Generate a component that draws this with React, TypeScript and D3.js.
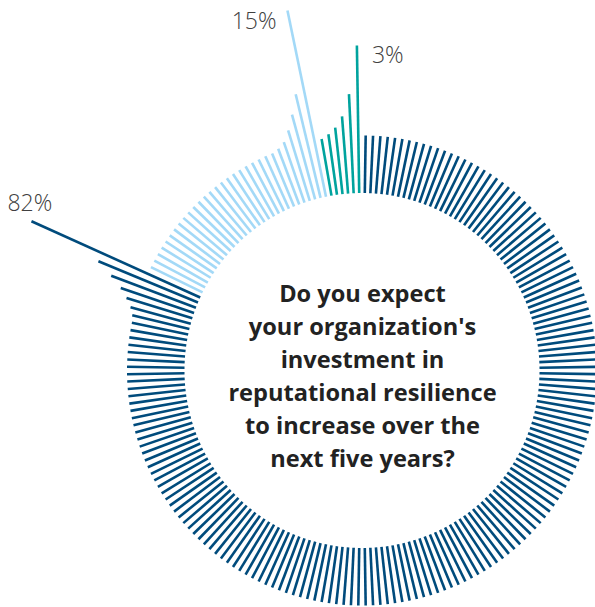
import React from "react";
import * as d3 from "d3";

const categories = ["Yes", "Unsure", "No"];
const shares = [82, 15, 3];
const labels = ["82%", "15%", "3%"];
const colors = ["#004b7c", "#a3d9f7", "#00a39e"];
const totalTicks = 200;
// extra length (px beyond ring) of the final ticks in each segment, earliest -> last
const tailDark = [1.3, 5, 11.4, 20, 33.1, 50.3, 127.7];
const tailLight = [2.1, 6.4, 16.2, 30.3, 49.1, 132.6];
const tailTeal = [3.6, 9.4, 20, 41.7, 90];
const tails = [tailDark, tailLight, tailTeal];
const questionLines = [
  "Do you expect",
  "your organization's",
  "investment in",
  "reputational resilience",
  "to increase over the",
  "next five years?",
];

const W = 595;
const H = 607;
const cx = 362;
const cy = 370.5;
const rInner = 177.5;
const rOuter = 235;

export default function App() {
  const angle = d3.scaleLinear().domain([0, totalTicks]).range([0, 2 * Math.PI]);
  const counts = shares.map((s) => Math.round((s / 100) * totalTicks));
  const ends = d3.cumsum(counts);

  const ticks: { x1: number; y1: number; x2: number; y2: number; c: string; seg: number; last: boolean }[] = [];
  for (let i = 0; i < totalTicks; i++) {
    const seg = ends.findIndex((e) => i < e);
    const k = ends[seg] - 1 - i;
    const tail = tails[seg];
    const ext = k < tail.length ? tail[tail.length - 1 - k] : 0;
    const a = angle(i + 0.5);
    const r2 = rOuter + ext;
    ticks.push({
      x1: cx + rInner * Math.sin(a),
      y1: cy - rInner * Math.cos(a),
      x2: cx + r2 * Math.sin(a),
      y2: cy - r2 * Math.cos(a),
      c: colors[seg],
      seg,
      last: k === 0,
    });
  }
  const tips = ticks.filter((t) => t.last);
  const labelPos = [
    { dx: -24, dy: -10, anchor: "start" },
    { dx: -11, dy: 18, anchor: "end" },
    { dx: 15, dy: 17, anchor: "start" },
  ];

  return (
    <svg
      width={W}
      height={H}
      style={{ position: "absolute", left: 0, top: 0, background: "#fff" }}
      fontFamily="'Open Sans', sans-serif"
    >
      {ticks.map((t, i) => (
        <line key={i} x1={t.x1} y1={t.y1} x2={t.x2} y2={t.y2} stroke={t.c} strokeWidth={2.6} />
      ))}
      {tips.map((t, i) => (
        <text
          key={categories[i]}
          x={t.x2 + labelPos[i].dx}
          y={t.y2 + labelPos[i].dy}
          textAnchor={labelPos[i].anchor as any}
          fontSize={23}
          fontWeight={300}
          fill="#404040"
        >
          {labels[i]}
        </text>
      ))}
      {questionLines.map((l, i) => (
        <text
          key={i}
          x={cx + 0.5}
          y={301.5 + i * 33}
          textAnchor="middle"
          fontSize={23.6}
          fontWeight={700}
          fill="#222"
        >
          {l}
        </text>
      ))}
    </svg>
  );
}
